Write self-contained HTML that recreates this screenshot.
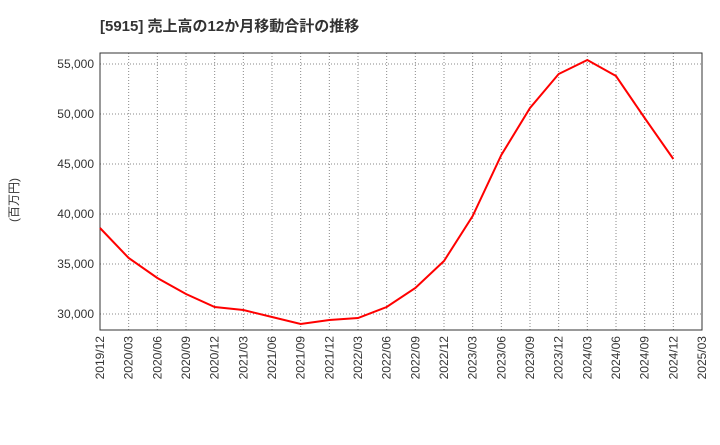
<!DOCTYPE html>
<html><head><meta charset="utf-8"><style>
body{margin:0;background:#fff;width:720px;height:440px;overflow:hidden}
text{font-family:"Liberation Sans","Noto Sans CJK JP",sans-serif}
</style></head><body>
<svg id="c" width="720" height="440">
<text x="100" y="31" font-size="15" font-weight="bold" fill="#333">[5915]  売上高の12か月移動合計の推移</text>
<text transform="translate(18,200) rotate(-90)" font-size="12" fill="#333" text-anchor="middle">(百万円)</text>
</svg>
<script>
const categories=["2019/12","2020/03","2020/06","2020/09","2020/12","2021/03","2021/06","2021/09","2021/12","2022/03","2022/06","2022/09","2022/12","2023/03","2023/06","2023/09","2023/12","2024/03","2024/06","2024/09","2024/12","2025/03"];
const values=[38600,35600,33600,32000,30700,30400,29700,29000,29400,29600,30700,32600,35300,39800,45900,50600,54000,55400,53800,49600,45500];
const yTicks=[30000,35000,40000,45000,50000,55000];
const yTickLabels=["30,000","35,000","40,000","45,000","50,000","55,000"];
const svg=document.getElementById('c'),NS="http://www.w3.org/2000/svg";
const L=100,R=702,T=53,B=330,yMin=28400,yMax=56100;
const x=i=>L+i*(R-L)/(categories.length-1);
const y=v=>B-(v-yMin)/(yMax-yMin)*(B-T);
function mk(t,a,p){const e=document.createElementNS(NS,t);for(const k in a)e.setAttribute(k,a[k]);(p||svg).appendChild(e);return e;}
categories.forEach((c,i)=>{
 const g=mk('line',{x1:x(i),x2:x(i),y1:T,y2:B,stroke:'#888','stroke-dasharray':'1,2','stroke-width':1});
 
 
 const t=mk('text',{transform:`translate(${x(i)+4},336) rotate(-90)`,'font-size':12,fill:'#333','text-anchor':'end'});
 t.textContent=c;
 
 
});
yTicks.forEach((v,i)=>{
 const g=mk('line',{x1:L,x2:R,y1:y(v),y2:y(v),stroke:'#888','stroke-dasharray':'1,2','stroke-width':1});
 
 
 const t=mk('text',{x:L-6,y:y(v)+4,'font-size':12,fill:'#333','text-anchor':'end'});
 t.textContent=yTickLabels[i];
 
 
});
const f=mk('rect',{x:L,y:T,width:R-L,height:B-T,fill:'none',stroke:'#333','stroke-width':1});


const pl=mk('polyline',{points:values.map((v,i)=>x(i)+','+y(v)).join(' '),fill:'none',stroke:'#f00','stroke-width':2});


</script>
</body></html>
